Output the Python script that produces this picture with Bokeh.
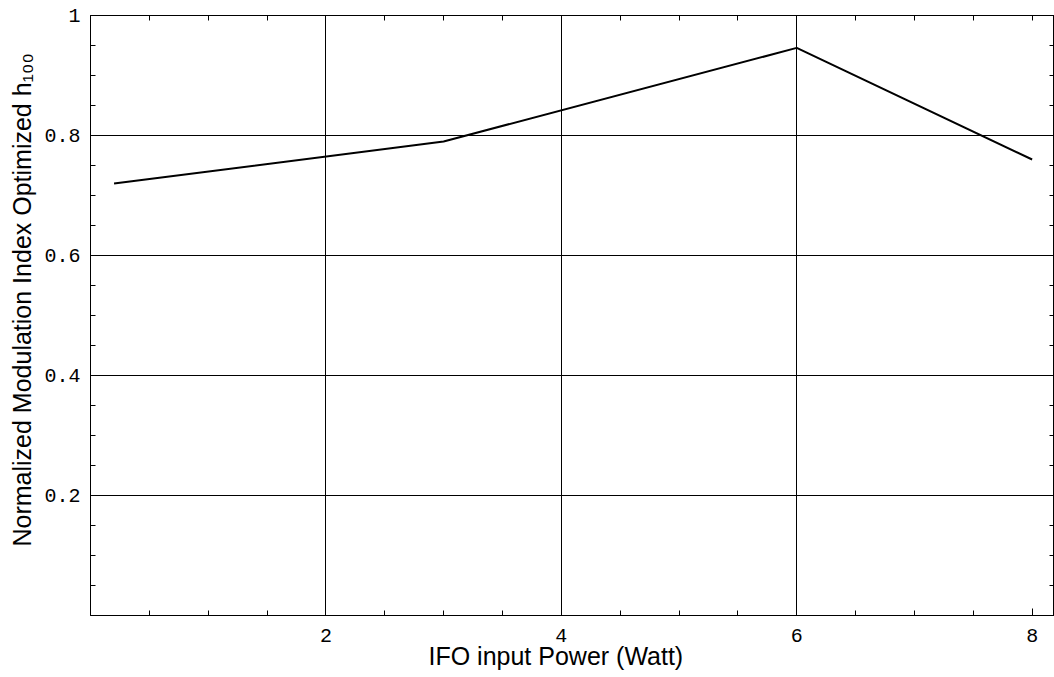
from bokeh.plotting import figure
from bokeh.models import Range1d, FixedTicker, LinearAxis, Title
from bokeh.embed import file_html
from bokeh.resources import INLINE

# ---- data ----
power_watt = [0.2, 3.0, 6.0, 8.0]
h100_norm = [0.72, 0.79, 0.946, 0.76]

x_ticks = [2, 4, 6, 8]
x_tick_labels = ["2", "4", "6", "8"]
x_minor_ticks = [0.5, 1.0, 1.5, 2.5, 3.0, 3.5, 4.5, 5.0, 5.5, 6.5, 7.0, 7.5, 8.0]
x_all_ticks = [0.5, 1.0, 1.5, 2.0, 2.5, 3.0, 3.5, 4.0, 4.5, 5.0, 5.5, 6.0, 6.5,
               7.0, 7.5, 8.0]
x_grid_ticks = [2, 4, 6]

y_ticks = [0.2, 0.4, 0.6, 0.8, 1.0]
y_tick_labels = ["0.2", "0.4", "0.6", "0.8", "1"]
y_minor_ticks = [0.05, 0.1, 0.15, 0.25, 0.3, 0.35, 0.45, 0.5, 0.55, 0.65, 0.7,
                 0.75, 0.85, 0.9, 0.95]
y_all_ticks = [0.05, 0.1, 0.15, 0.2, 0.25, 0.3, 0.35, 0.4, 0.45, 0.5, 0.55, 0.6,
               0.65, 0.7, 0.75, 0.8, 0.85, 0.9, 0.95]
y_grid_ticks = [0.2, 0.4, 0.6, 0.8, 1.0]

x_title = "IFO input Power (Watt)"
y_title = "Normalized Modulation Index Optimized h\u2081\u2080\u2080"

TICK_FONT = "Liberation Mono"
TITLE_FONT = "Liberation Sans"

p = figure(width=1054, height=677,
           x_range=Range1d(0, 8.19), y_range=Range1d(0, 1),
           output_backend="svg", toolbar_location=None,
           min_border_left=90, min_border_right=0,
           min_border_top=15, min_border_bottom=62,
           background_fill_color="white", border_fill_color="white")

p.outline_line_color = "black"
p.outline_line_width = 1

p.line(power_watt, h100_norm, line_color="black", line_width=2)

# grids
p.xgrid.ticker = FixedTicker(ticks=x_grid_ticks)
p.ygrid.ticker = FixedTicker(ticks=y_grid_ticks)
for g in (p.xgrid[0], p.ygrid[0]):
    g.grid_line_color = "black"
    g.grid_line_width = 1
    g.grid_line_alpha = 1.0


def style_axis(ax):
    ax.axis_line_color = "black"
    ax.axis_line_width = 1
    ax.major_tick_line_color = "black"
    ax.minor_tick_line_color = "black"
    ax.major_tick_in = 7
    ax.major_tick_out = 0
    ax.minor_tick_in = 5
    ax.minor_tick_out = 0
    ax.major_label_text_font = TICK_FONT
    ax.major_label_text_font_size = "20px"
    ax.major_label_text_color = "black"


xa = p.xaxis[0]
xa.ticker = FixedTicker(ticks=x_ticks, minor_ticks=x_minor_ticks)
xa.major_label_overrides = dict(zip(x_ticks, x_tick_labels))
style_axis(xa)
xa.major_label_standoff = 13

ya = p.yaxis[0]
ya.ticker = FixedTicker(ticks=y_ticks, minor_ticks=y_minor_ticks)
ya.major_label_overrides = dict(zip(y_ticks, y_tick_labels))
style_axis(ya)
ya.major_label_standoff = 10

# top / right frame axes: tick marks only (no major ticks -> no labels)
top_ax = LinearAxis(ticker=FixedTicker(ticks=[], minor_ticks=x_all_ticks))
style_axis(top_ax)
top_ax.major_label_standoff = 0
p.add_layout(top_ax, "above")

right_ax = LinearAxis(ticker=FixedTicker(ticks=[], minor_ticks=y_all_ticks))
style_axis(right_ax)
right_ax.major_label_standoff = 0
p.add_layout(right_ax, "right")

xt = Title(text=x_title, align="left", offset=338, standoff=-6,
           vertical_align="top",
           text_font=TITLE_FONT, text_font_size="25px", text_font_style="normal",
           text_color="black")
p.add_layout(xt, "below")

yt = Title(text=y_title, align="left", offset=69, standoff=11,
           text_font=TITLE_FONT, text_font_size="25px", text_font_style="normal",
           text_color="black")
p.add_layout(yt, "left")

open("out.html", "w").write(file_html(p, INLINE))
